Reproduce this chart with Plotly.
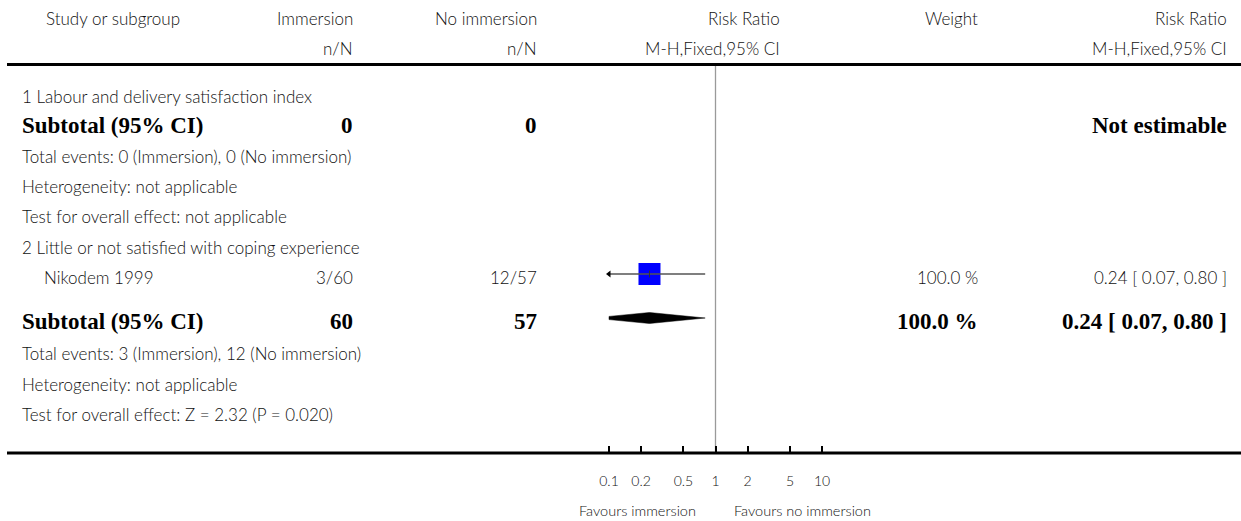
import math
import plotly.graph_objects as go

W, H = 1241, 521

# ---------------- data ----------------
header_top = ["Study or subgroup", "Immersion", "No immersion", "Risk Ratio", "Weight", "Risk Ratio"]
header_sub = ["", "n/N", "n/N", "M-H,Fixed,95% CI", "", "M-H,Fixed,95% CI"]

study_names = ["Nikodem 1999"]
imm_events = [3]
imm_total = [60]
no_events = [12]
no_total = [57]
study_rr = [0.24]
study_lo = [0.07]
study_hi = [0.80]
study_weight = [100.0]

sub1_title = "1 Labour and delivery satisfaction index"
sub1_totals = [0, 0]
sub1_lines = ["Total events: 0 (Immersion), 0 (No immersion)",
              "Heterogeneity: not applicable",
              "Test for overall effect: not applicable"]

sub2_title = "2 Little or not satisfied with coping experience"
sub2_totals = [60, 57]
sub2_rr = [0.24, 0.07, 0.80]
sub2_weight = 100.0
sub2_lines = ["Total events: 3 (Immersion), 12 (No immersion)",
              "Heterogeneity: not applicable",
              "Test for overall effect: Z = 2.32 (P = 0.020)"]

tick_vals = [0.1, 0.2, 0.5, 1, 2, 5, 10]
tick_text = ["0.1", "0.2", "0.5", "1", "2", "5", "10"]
favours = ["Favours immersion", "Favours no immersion"]

# ---------------- style ----------------
SANS = "Lato, 'Open Sans', sans-serif"
SERIF = "'Liberation Serif', 'DejaVu Serif', serif"
TXT = "#111111"
FS = 17
BFS = 23
LIGHT = 300
PAD = 2

AX_MIN, AX_MAX = 0.1, 10
PX_LEFT, PX_RIGHT = 609, 822   # pixel positions of 0.1 and 10
DEC = (PX_RIGHT - PX_LEFT) / 2.0
D0, D1 = 600, 830
xr = [math.log10(AX_MIN) - (PX_LEFT - D0) / DEC, math.log10(AX_MAX) + (D1 - PX_RIGHT) / DEC]

col_x = {"study": 22, "imm": 353, "no": 537, "rr": 780, "wt": 978, "ci": 1227}

fig = go.Figure()
ann = []

def px(x):
    return x / W

def text(x, y, s, anchor="left", bold=False, size=None):
    if anchor == "left":
        x -= PAD
    elif anchor == "right":
        x += PAD
    ann.append(dict(x=px(x), y=y, xref="paper", yref="y", text=s, showarrow=False,
                    xanchor=anchor, yanchor="middle",
                    font=dict(family=SERIF if bold else SANS,
                              size=size or (BFS if bold else FS),
                              color="#000" if bold else TXT,
                              weight="bold" if bold else LIGHT)))

# headers
text(113, 18, header_top[0], "center")
text(col_x["imm"], 18, header_top[1], "right")
text(col_x["no"], 18, header_top[2], "right")
text(col_x["rr"], 18, header_top[3], "right")
text(col_x["wt"], 18, header_top[4], "right")
text(col_x["ci"], 18, header_top[5], "right")
text(col_x["imm"], 48, header_sub[1], "right")
text(col_x["no"], 48, header_sub[2], "right")
text(col_x["rr"], 48, header_sub[3], "right")
text(col_x["ci"], 48, header_sub[5], "right")

# subgroup 1
text(22, 96, sub1_title)
text(22, 125, "Subtotal (95% CI)", bold=True)
text(col_x["imm"], 125, str(sub1_totals[0]), "right", bold=True)
text(col_x["no"], 125, str(sub1_totals[1]), "right", bold=True)
text(col_x["ci"], 125, "Not estimable", "right", bold=True)
for yy, s in zip([156, 186, 216], sub1_lines):
    text(22, yy, s)

# subgroup 2
text(22, 247, sub2_title)
STUDY_Y = 274
for i, name in enumerate(study_names):
    text(44, STUDY_Y + 3, name)
    text(col_x["imm"], STUDY_Y + 3, f"{imm_events[i]}/{imm_total[i]}", "right")
    text(col_x["no"], STUDY_Y + 3, f"{no_events[i]}/{no_total[i]}", "right")
    text(col_x["wt"], STUDY_Y + 3, f"{study_weight[i]:.1f} %", "right")
    text(col_x["ci"], STUDY_Y + 3,
         f"{study_rr[i]:.2f} [ {study_lo[i]:.2f}, {study_hi[i]:.2f} ]", "right")

SUB_Y = 318
text(22, SUB_Y + 3, "Subtotal (95% CI)", bold=True)
text(col_x["imm"], SUB_Y + 3, str(sub2_totals[0]), "right", bold=True)
text(col_x["no"], SUB_Y + 3, str(sub2_totals[1]), "right", bold=True)
text(col_x["wt"], SUB_Y + 3, f"{sub2_weight:.1f} %", "right", bold=True)
text(col_x["ci"], SUB_Y + 3, f"{sub2_rr[0]:.2f} [ {sub2_rr[1]:.2f}, {sub2_rr[2]:.2f} ]", "right", bold=True)
for yy, s in zip([353, 384, 414], sub2_lines):
    text(22, yy, s)

# favours labels
text(638, 510, favours[0], "center", size=14.5)
text(802, 510, favours[1], "center", size=14.5)

# null line
fig.add_trace(go.Scatter(x=[1, 1], y=[66, 451], mode="lines",
                         line=dict(color="#9a9a9a", width=1.3), hoverinfo="skip"))

# study squares, then CI lines on top
for i in range(len(study_names)):
    lo = max(study_lo[i], AX_MIN)
    hi = min(study_hi[i], AX_MAX)
    fig.add_trace(go.Scatter(x=[study_rr[i]], y=[STUDY_Y], mode="markers",
                             marker=dict(symbol="square", size=22, color="#0000ff",
                                         line=dict(width=0)), hoverinfo="skip"))
    fig.add_trace(go.Scatter(x=[lo, hi], y=[STUDY_Y, STUDY_Y], mode="lines",
                             line=dict(color="#555555", width=1.6), hoverinfo="skip"))
    if study_lo[i] < AX_MIN:
        fig.add_trace(go.Scatter(x=[AX_MIN], y=[STUDY_Y], mode="markers",
                                 marker=dict(symbol="triangle-left", size=6, color="#000"),
                                 hoverinfo="skip"))
    fig.add_trace(go.Scatter(x=[study_rr[i]], y=[STUDY_Y], mode="markers",
                             marker=dict(symbol="line-ns", size=5,
                                         line=dict(width=1, color="#333")),
                             hoverinfo="skip"))

# subtotal diamond (clipped to axis range in log space)
est, lo, hi = sub2_rr
HALF = 5.5
L = [math.log10(lo), math.log10(est), math.log10(hi)]
def half_at(v):
    if v <= L[1]:
        return HALF * (v - L[0]) / (L[1] - L[0])
    return HALF * (L[2] - v) / (L[2] - L[1])
a = max(L[0], math.log10(AX_MIN))
b = min(L[2], math.log10(AX_MAX))
pts_top = [(a, SUB_Y - half_at(a)), (L[1], SUB_Y - HALF), (b, SUB_Y - half_at(b))]
pts_bot = [(b, SUB_Y + half_at(b)), (L[1], SUB_Y + HALF), (a, SUB_Y + half_at(a))]
poly = pts_top + pts_bot + [pts_top[0]]
fig.add_trace(go.Scatter(x=[10 ** p[0] for p in poly], y=[p[1] for p in poly],
                         mode="lines", fill="toself", fillcolor="#000",
                         line=dict(color="#000", width=0.5), hoverinfo="skip"))

# horizontal rules
shapes = [
    dict(type="line", xref="paper", yref="y", x0=px(7), x1=1, y0=64.5, y1=64.5,
         line=dict(color="#000", width=3)),
    dict(type="line", xref="paper", yref="y", x0=px(7), x1=1, y0=453, y1=453,
         line=dict(color="#000", width=3)),
]

fig.update_layout(
    width=W, height=H, margin=dict(l=0, r=0, t=0, b=0),
    paper_bgcolor="white", plot_bgcolor="white", showlegend=False,
    annotations=ann, shapes=shapes,
    xaxis=dict(type="log", domain=[D0 / W, D1 / W], range=xr,
               tickvals=tick_vals, ticktext=tick_text,
               ticks="inside", ticklen=7, tickwidth=2, tickcolor="#000",
               showline=False, showgrid=False, zeroline=False,
               anchor="free", position=1 - 453 / H, ticklabelstandoff=18,
               tickfont=dict(family=SANS, size=14, color=TXT, weight=LIGHT),
               fixedrange=True),
    yaxis=dict(range=[H, 0], domain=[0, 1], visible=False, fixedrange=True),
)

fig.write_html("out.html", config={"displayModeBar": False},
               post_script="document.body.style.margin='0';")
